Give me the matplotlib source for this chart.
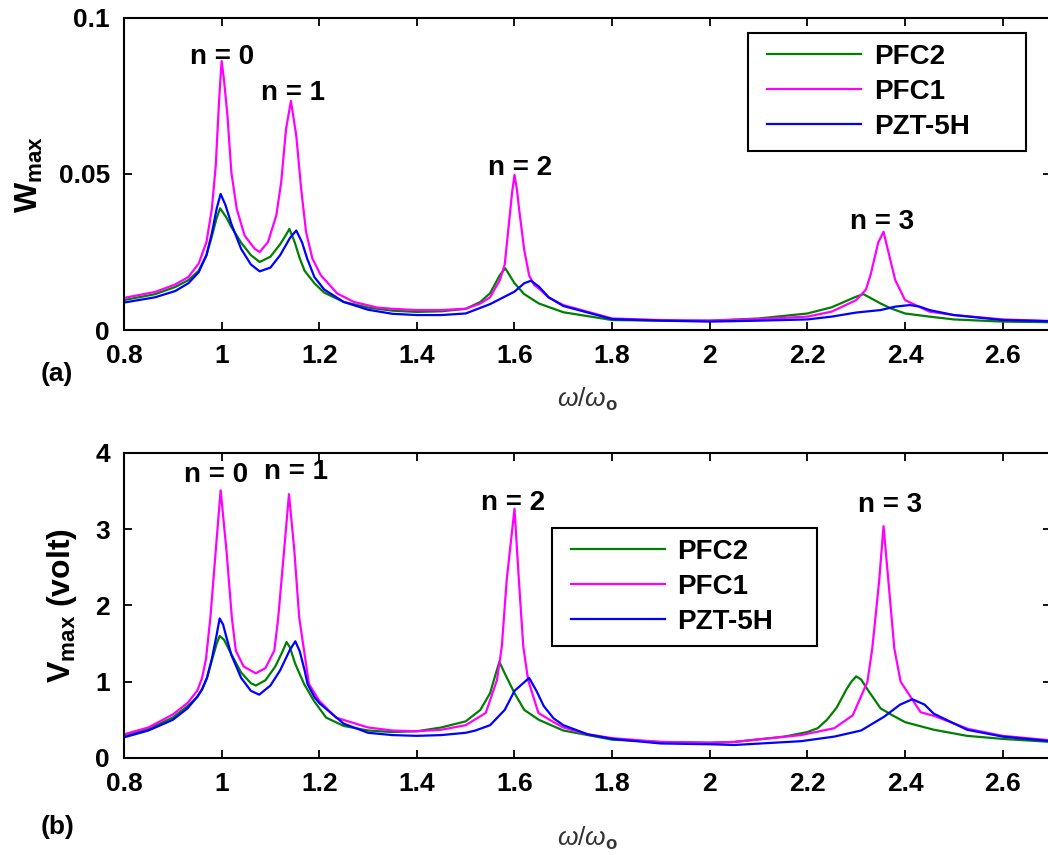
import matplotlib
matplotlib.use("Agg")
import matplotlib.pyplot as plt
from matplotlib.patches import Rectangle

plt.rcParams['font.family'] = ['Liberation Sans', 'DejaVu Sans']
plt.rcParams['font.weight'] = 'bold'
plt.rcParams['mathtext.fontset'] = 'custom'
plt.rcParams['mathtext.rm'] = 'Liberation Sans:normal'
plt.rcParams['mathtext.it'] = 'Liberation Sans:italic:normal'
plt.rcParams['mathtext.bf'] = 'Liberation Sans:bold'

# ---- panel (a): W_max ----
x_w_pfc1 = [0.80, 0.864, 0.905, 0.932, 0.953, 0.969, 0.980, 0.988, 0.995, 1.000, 1.005, 1.012, 1.020,
            1.031, 1.047, 1.068, 1.078, 1.095, 1.112, 1.122, 1.132, 1.142, 1.153, 1.163, 1.173, 1.186,
            1.203, 1.237, 1.271, 1.319, 1.35, 1.40, 1.45, 1.50, 1.53, 1.55, 1.57, 1.58, 1.59, 1.595,
            1.600, 1.605, 1.61, 1.62, 1.63, 1.64, 1.65, 1.67, 1.70, 1.80, 1.90, 2.00, 2.10, 2.20, 2.25,
            2.30, 2.32, 2.33, 2.345, 2.356, 2.37, 2.38, 2.40, 2.45, 2.50, 2.60, 2.70]
w_pfc1 = [0.0103, 0.0122, 0.0146, 0.0170, 0.0213, 0.0282, 0.0388, 0.0527, 0.0740, 0.0862, 0.0800, 0.0686,
          0.0505, 0.0388, 0.0303, 0.0260, 0.0250, 0.0282, 0.0367, 0.0473, 0.0644, 0.0734, 0.0622, 0.0452,
          0.0314, 0.0229, 0.0176, 0.0117, 0.0090, 0.0072, 0.0068, 0.0064, 0.0064, 0.0068, 0.0085, 0.0105,
          0.0160, 0.0210, 0.0363, 0.0440, 0.0497, 0.0450, 0.0380, 0.0256, 0.0175, 0.0145, 0.0133, 0.0104,
          0.0080, 0.0037, 0.0032, 0.0030, 0.0035, 0.0043, 0.0059, 0.0096, 0.0130, 0.0180, 0.0280, 0.0315,
          0.0224, 0.0160, 0.0096, 0.0059, 0.0048, 0.0034, 0.0029]

x_w_pfc2 = [0.80, 0.864, 0.905, 0.932, 0.953, 0.969, 0.980, 0.990, 0.997, 1.010, 1.020, 1.040, 1.060,
            1.078, 1.100, 1.120, 1.130, 1.139, 1.150, 1.160, 1.170, 1.190, 1.210, 1.250, 1.300, 1.350,
            1.400, 1.450, 1.500, 1.530, 1.550, 1.570, 1.581, 1.600, 1.620, 1.650, 1.700, 1.800, 1.900,
            2.000, 2.100, 2.200, 2.250, 2.300, 2.315, 2.350, 2.370, 2.400, 2.450, 2.500, 2.600, 2.700]
w_pfc2 = [0.0096, 0.0115, 0.0138, 0.0160, 0.0190, 0.0240, 0.0300, 0.0360, 0.0390, 0.0360, 0.0330, 0.0280,
          0.0240, 0.0218, 0.0235, 0.0275, 0.0300, 0.0324, 0.0280, 0.0230, 0.0190, 0.0150, 0.0120, 0.0090,
          0.0072, 0.0062, 0.0058, 0.0060, 0.0068, 0.0090, 0.0118, 0.0176, 0.0198, 0.0150, 0.0115, 0.0085,
          0.0057, 0.0032, 0.0030, 0.0030, 0.0037, 0.0053, 0.0073, 0.0107, 0.0115, 0.0085, 0.0070, 0.0053,
          0.0043, 0.0034, 0.0027, 0.0025]

x_w_pzt = [0.80, 0.864, 0.905, 0.932, 0.953, 0.969, 0.980, 0.990, 0.998, 1.008, 1.020, 1.040, 1.060,
           1.078, 1.100, 1.120, 1.140, 1.153, 1.165, 1.175, 1.190, 1.210, 1.250, 1.300, 1.350, 1.400,
           1.450, 1.500, 1.550, 1.580, 1.600, 1.620, 1.634, 1.650, 1.670, 1.700, 1.800, 1.900, 2.000,
           2.100, 2.200, 2.250, 2.300, 2.350, 2.380, 2.410, 2.430, 2.450, 2.500, 2.600, 2.700]
w_pzt = [0.0088, 0.0105, 0.0125, 0.0150, 0.0185, 0.0240, 0.0310, 0.0390, 0.0436, 0.0400, 0.0340, 0.0260,
         0.0210, 0.0188, 0.0200, 0.0240, 0.0295, 0.0319, 0.0280, 0.0230, 0.0170, 0.0130, 0.0090, 0.0065,
         0.0052, 0.0048, 0.0048, 0.0053, 0.0083, 0.0107, 0.0123, 0.0150, 0.0158, 0.0139, 0.0105, 0.0077,
         0.0035, 0.0030, 0.0027, 0.0030, 0.0034, 0.0043, 0.0056, 0.0064, 0.0075, 0.0080, 0.0075, 0.0064,
         0.0048, 0.0032, 0.0028]

# ---- panel (b): V_max (volt) ----
x_v_pfc1 = [0.80, 0.85, 0.90, 0.93, 0.95, 0.96, 0.968, 0.977, 0.988, 0.998, 1.010, 1.021, 1.029, 1.045,
            1.070, 1.090, 1.108, 1.116, 1.128, 1.138, 1.149, 1.159, 1.179, 1.200, 1.234, 1.300, 1.350,
            1.400, 1.450, 1.500, 1.541, 1.564, 1.574, 1.584, 1.600, 1.609, 1.618, 1.628, 1.649, 1.680,
            1.700, 1.750, 1.800, 1.900, 2.000, 2.050, 2.187, 2.255, 2.293, 2.323, 2.333, 2.347, 2.356,
            2.366, 2.378, 2.391, 2.432, 2.460, 2.530, 2.600, 2.700]
v_pfc1 = [0.31, 0.40, 0.57, 0.72, 0.88, 1.05, 1.30, 1.84, 2.72, 3.51, 2.72, 1.84, 1.41, 1.20, 1.11, 1.18,
          1.41, 1.84, 2.72, 3.46, 2.72, 1.84, 0.97, 0.75, 0.53, 0.40, 0.36, 0.35, 0.37, 0.43, 0.59, 1.02,
          1.46, 2.33, 3.27, 2.33, 1.46, 1.02, 0.59, 0.47, 0.40, 0.31, 0.26, 0.21, 0.20, 0.21, 0.30, 0.39,
          0.56, 1.00, 1.44, 2.32, 3.04, 2.32, 1.44, 1.00, 0.60, 0.55, 0.38, 0.29, 0.23]

x_v_pfc2 = [0.80, 0.85, 0.90, 0.93, 0.95, 0.96, 0.97, 0.98, 0.99, 0.996, 1.005, 1.020, 1.040, 1.060, 1.070,
            1.090, 1.110, 1.125, 1.133, 1.140, 1.150, 1.160, 1.169, 1.190, 1.214, 1.250, 1.300, 1.350,
            1.400, 1.450, 1.500, 1.530, 1.550, 1.560, 1.569, 1.580, 1.600, 1.620, 1.650, 1.700, 1.800,
            1.900, 2.000, 2.050, 2.153, 2.200, 2.221, 2.240, 2.260, 2.280, 2.290, 2.300, 2.310, 2.323,
            2.350, 2.374, 2.400, 2.459, 2.527, 2.600, 2.700]
v_pfc2 = [0.29, 0.38, 0.53, 0.68, 0.80, 0.90, 1.05, 1.28, 1.50, 1.60, 1.55, 1.36, 1.12, 0.98, 0.95, 1.02,
          1.20, 1.40, 1.52, 1.45, 1.25, 1.10, 0.97, 0.74, 0.53, 0.42, 0.36, 0.34, 0.35, 0.40, 0.48, 0.63,
          0.85, 1.07, 1.26, 1.11, 0.85, 0.63, 0.50, 0.36, 0.24, 0.21, 0.20, 0.21, 0.28, 0.34, 0.39, 0.50,
          0.66, 0.90, 1.00, 1.07, 1.03, 0.90, 0.65, 0.56, 0.47, 0.37, 0.29, 0.25, 0.21]

x_v_pzt = [0.80, 0.85, 0.90, 0.93, 0.95, 0.96, 0.97, 0.98, 0.99, 0.996, 1.003, 1.010, 1.020, 1.040, 1.060,
           1.077, 1.100, 1.120, 1.140, 1.151, 1.160, 1.170, 1.176, 1.190, 1.200, 1.250, 1.300, 1.350,
           1.400, 1.450, 1.500, 1.520, 1.550, 1.580, 1.600, 1.630, 1.645, 1.660, 1.680, 1.700, 1.750,
           1.800, 1.900, 2.000, 2.050, 2.187, 2.255, 2.310, 2.357, 2.390, 2.415, 2.440, 2.459, 2.527,
           2.600, 2.700]
v_pzt = [0.27, 0.36, 0.50, 0.65, 0.80, 0.90, 1.05, 1.30, 1.62, 1.83, 1.75, 1.58, 1.35, 1.05, 0.88, 0.83,
         0.95, 1.15, 1.42, 1.53, 1.40, 1.15, 0.97, 0.80, 0.72, 0.45, 0.33, 0.30, 0.29, 0.30, 0.33, 0.36,
         0.43, 0.63, 0.88, 1.05, 0.88, 0.68, 0.52, 0.43, 0.31, 0.25, 0.19, 0.18, 0.17, 0.22, 0.28, 0.36,
         0.54, 0.70, 0.77, 0.70, 0.58, 0.37, 0.28, 0.22]

x_ticks = [0.8, 1.0, 1.2, 1.4, 1.6, 1.8, 2.0, 2.2, 2.4, 2.6]
x_ticklabels = ['0.8', '1', '1.2', '1.4', '1.6', '1.8', '2', '2.2', '2.4', '2.6']

labels_a = [('n = 0', 1.000, 0.0875), ('n = 1', 1.146, 0.0758),
            ('n = 2', 1.611, 0.0520), ('n = 3', 2.353, 0.0346)]
labels_b = [('n = 0', 0.989, 3.71), ('n = 1', 1.152, 3.75),
            ('n = 2', 1.597, 3.34), ('n = 3', 2.370, 3.32)]

c_pfc2 = '#008000'
c_pfc1 = '#ff00ff'
c_pzt = '#0000ff'
FS = 19
LW = 1.6

fig = plt.figure(figsize=(10.48, 8.55), dpi=100)
ax1 = fig.add_axes([0.1183, 0.614, 0.885, 0.365])
ax2 = fig.add_axes([0.1183, 0.1135, 0.885, 0.3567])


def style(ax, label_y):
    ax.set_xlim(0.8, 2.7)
    ax.set_xticks(x_ticks)
    ax.set_xticklabels(x_ticklabels)
    ax.tick_params(direction='in', top=True, right=True, length=6, width=1.3,
                   labelsize=FS, pad=10)
    for s in ax.spines.values():
        s.set_linewidth(1.5)
    ax.set_xlabel(r'$\omega/\omega_{\mathbf{o}}$', fontsize=FS, color='#333333',
                  fontweight='normal')
    ax.xaxis.set_label_coords(0.5, label_y)


def boxed_legend(ax, anchor, right_extra):
    leg = ax.legend(loc='upper left', bbox_to_anchor=anchor, borderaxespad=0,
                    fontsize=20, handlelength=3.4, handletextpad=0.45, labelspacing=0.32,
                    borderpad=0.4, frameon=False)
    leg.set_zorder(6)
    fig.canvas.draw()
    bb = leg.get_window_extent()
    inv = ax.transAxes.inverted()
    (x0, y0), (x1, y1) = inv.transform([(bb.x0 - 8, bb.y0), (bb.x1 + right_extra, bb.y1)])
    ax.add_patch(Rectangle((x0, y0), x1 - x0, y1 - y0, transform=ax.transAxes,
                           facecolor='white', edgecolor='black', lw=1.5, zorder=5,
                           clip_on=False))


ax1.plot(x_w_pfc2, w_pfc2, color=c_pfc2, lw=LW, label='PFC2')
ax1.plot(x_w_pfc1, w_pfc1, color=c_pfc1, lw=LW, label='PFC1')
ax1.plot(x_w_pzt, w_pzt, color=c_pzt, lw=LW, label='PZT-5H')
style(ax1, -0.18)
ax1.set_ylim(0, 0.1)
ax1.set_yticks([0, 0.05, 0.1])
ax1.set_yticklabels(['0', '0.05', '0.1'])
ax1.set_ylabel(r'W$_{\mathbf{max}}$', fontsize=23, fontweight='bold', labelpad=10)
for t, x, y in labels_a:
    ax1.text(x, y, t, fontsize=20, fontweight='bold', ha='center', va='center')
ax1.text(-0.09, -0.14, '(a)', transform=ax1.transAxes, fontsize=FS, fontweight='bold',
         ha='left', va='center')

ax2.plot(x_v_pfc2, v_pfc2, color=c_pfc2, lw=LW, label='PFC2')
ax2.plot(x_v_pfc1, v_pfc1, color=c_pfc1, lw=LW, label='PFC1')
ax2.plot(x_v_pzt, v_pzt, color=c_pzt, lw=LW, label='PZT-5H')
style(ax2, -0.22)
ax2.set_ylim(0, 4)
ax2.set_yticks([0, 1, 2, 3, 4])
ax2.set_ylabel(r'V$_{\mathbf{max}}$ (volt)', fontsize=23, fontweight='bold', labelpad=12)
for t, x, y in labels_b:
    ax2.text(x, y, t, fontsize=20, fontweight='bold', ha='center', va='center')
ax2.text(-0.09, -0.225, '(b)', transform=ax2.transAxes, fontsize=FS, fontweight='bold',
         ha='left', va='center')

boxed_legend(ax1, (0.681, 0.952), 45)
boxed_legend(ax2, (0.4696, 0.754), 32)

fig.savefig('out.png', dpi=100)
